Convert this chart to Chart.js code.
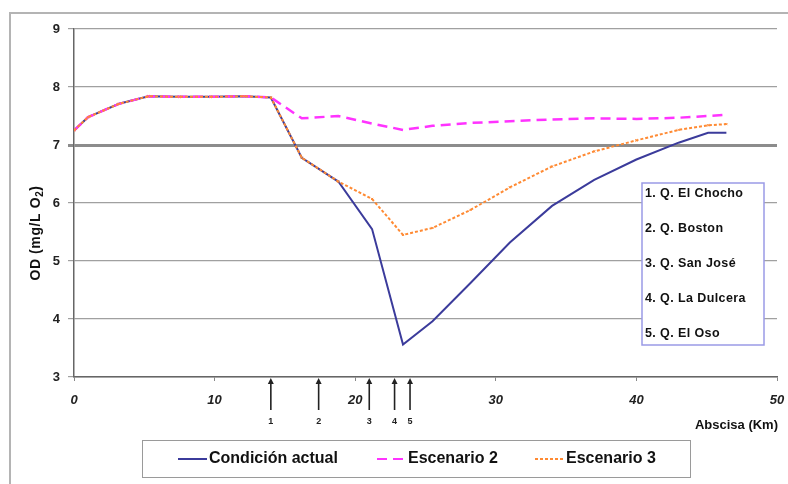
<!DOCTYPE html>
<html>
<head>
<meta charset="utf-8">
<script src="https://cdn.jsdelivr.net/npm/chart.js@4/dist/chart.umd.min.js"></script>
<style>
  html, body { margin: 0; padding: 0; background: #fff; }
  #wrap { position: relative; width: 788px; height: 484px; }
</style>
</head>
<body>
<div id="wrap"><canvas id="od-chart" width="788" height="484"></canvas></div>
<script>
// ── Data ──────────────────────────────────────────────────────────────────────
const km       = [0, 1, 3.2, 5.3, 7.5, 9.7, 12.1, 14, 16.2, 18.8, 21.2, 23.4, 25.5, 28.2, 31, 34, 37, 40, 43, 45.1, 46.4];
const actual   = [7.25, 7.48, 7.71, 7.84, 7.83, 7.83, 7.84, 7.82, 6.78, 6.37, 5.55, 3.56, 3.96, 4.62, 5.32, 5.95, 6.40, 6.75, 7.04, 7.21, 7.21];
const scen2    = [7.25, 7.48, 7.71, 7.84, 7.83, 7.83, 7.84, 7.82, 7.46, 7.50, 7.37, 7.26, 7.33, 7.38, 7.41, 7.44, 7.46, 7.45, 7.47, 7.50, 7.52];
const scen3    = [7.25, 7.48, 7.71, 7.84, 7.83, 7.83, 7.84, 7.82, 6.78, 6.37, 6.07, 5.45, 5.57, 5.88, 6.27, 6.63, 6.89, 7.08, 7.26, 7.34, 7.36];
const seriesLabels = ['Condición actual', 'Escenario 2', 'Escenario 3'];

const tribKm    = [14.0, 17.4, 21.0, 22.8, 23.9];
const tribNames = ['1. Q. El Chocho', '2. Q. Boston', '3. Q. San José', '4. Q. La Dulcera', '5. Q. El Oso'];

const FONT = '"Liberation Sans", Arial, sans-serif';
const COLORS = ['#3b3b9b', '#ff33ff', '#ff8a33'];
const DASHES = [[], [10, 6], [3, 2]];

const toPoints = ys => ys.map((y, i) => ({ x: km[i], y }));

// ── Extra drawing: frame, axis titles, tributary arrows, boxes ───────────────
const extras = {
  id: 'extras',
  beforeDraw(chart) {
    const c = chart.ctx;
    c.save();
    c.fillStyle = '#fff';
    c.fillRect(0, 0, chart.width, chart.height);
    c.restore();
  },
  afterDraw(chart) {
    const c = chart.ctx;
    const xs = chart.scales.x;
    const area = chart.chartArea;
    c.save();

    // outer frame (only top and left are visible in the picture)
    c.strokeStyle = '#b4b4b4';
    c.lineWidth = 2;
    c.beginPath();
    c.moveTo(10, chart.height);
    c.lineTo(10, 13);
    c.lineTo(chart.width, 13);
    c.stroke();

    // y title, with subscript
    c.fillStyle = '#111';
    c.translate(36, 233);
    c.rotate(-Math.PI / 2);
    c.letterSpacing = '0.6px';
    c.font = `bold 14px ${FONT}`;
    const main = 'OD (mg/L O';
    const w1 = c.measureText(main).width;
    c.font = `bold 10px ${FONT}`;
    const w2 = c.measureText('2').width;
    c.font = `bold 14px ${FONT}`;
    const w3 = c.measureText(')').width;
    const start = -(w1 + w2 + w3) / 2;
    c.textBaseline = 'middle';
    c.textAlign = 'left';
    c.fillText(main, start, 0);
    c.font = `bold 10px ${FONT}`;
    c.fillText('2', start + w1, 4);
    c.font = `bold 14px ${FONT}`;
    c.fillText(')', start + w1 + w2, 0);
    c.setTransform(1, 0, 0, 1, 0, 0);
    c.letterSpacing = '0px';

    // x title
    c.font = `bold 13px ${FONT}`;
    c.textAlign = 'right';
    c.textBaseline = 'middle';
    c.fillText('Abscisa (Km)', 778, 425);

    // tributary arrows
    c.strokeStyle = '#222';
    c.fillStyle = '#222';
    tribKm.forEach((k, i) => {
      const px = xs.getPixelForValue(k);
      c.lineWidth = 1.6;
      c.beginPath();
      c.moveTo(px, 410);
      c.lineTo(px, area.bottom + 5);
      c.stroke();
      c.beginPath();
      c.moveTo(px, area.bottom + 1);
      c.lineTo(px - 3, area.bottom + 7);
      c.lineTo(px + 3, area.bottom + 7);
      c.closePath();
      c.fill();
      c.font = `bold 9px ${FONT}`;
      c.textAlign = 'center';
      c.fillText(String(i + 1), px, 422);
    });

    // tributary names box
    c.fillStyle = '#fff';
    c.fillRect(642, 183, 122, 162);
    c.strokeStyle = '#9a9ae6';
    c.lineWidth = 1.5;
    c.strokeRect(642, 183, 122, 162);
    c.fillStyle = '#111';
    c.font = `bold 12.5px ${FONT}`;
    c.letterSpacing = '0.4px';
    c.textAlign = 'left';
    tribNames.forEach((t, i) => c.fillText(t, 645, 194 + i * 35));
    c.letterSpacing = '0px';

    // series legend box
    c.strokeStyle = '#9a9a9a';
    c.lineWidth = 1;
    c.strokeRect(142.5, 440.5, 548, 37);
    const legX = [178, 377, 535];
    c.font = `bold 16px ${FONT}`;
    seriesLabels.forEach((lab, i) => {
      c.strokeStyle = COLORS[i];
      c.lineWidth = 2;
      c.setLineDash(DASHES[i]);
      c.beginPath();
      c.moveTo(legX[i], 459);
      c.lineTo(legX[i] + 29, 459);
      c.stroke();
      c.setLineDash([]);
      c.fillStyle = '#111';
      c.fillText(lab, legX[i] + 31, 459);
    });

    c.restore();
  },
};

// ── Chart ────────────────────────────────────────────────────────────────────
new Chart(document.getElementById('od-chart').getContext('2d'), {
  type: 'scatter',
  data: {
    datasets: [actual, scen2, scen3].map((ys, i) => ({
      label: seriesLabels[i],
      data: toPoints(ys),
      showLine: true,
      borderColor: COLORS[i],
      backgroundColor: COLORS[i],
      borderWidth: i === 1 ? 2.5 : 2,
      borderDash: DASHES[i],
      pointRadius: i === 2 ? 1.5 : 0,
      pointStyle: 'crossRot',
      pointBorderWidth: 1,
      tension: 0,
    })).reverse(),
  },
  options: {
    responsive: false,
    animation: false,
    layout: { padding: { left: 40, right: 11, top: 29, bottom: 71 } },
    plugins: { legend: { display: false }, tooltip: { enabled: false } },
    scales: {
      x: {
        type: 'linear',
        min: 0, max: 50,
        afterFit: s => { s.height = 36; s.paddingLeft = 0; s.paddingRight = 0; },
        ticks: {
          stepSize: 10,
          color: '#222',
          padding: 12,
          maxRotation: 0,
          font: { family: FONT, size: 13, weight: 'bold', style: 'italic' },
        },
        grid: { drawOnChartArea: false, drawTicks: true, tickLength: 4, color: '#888' },
        border: { color: '#666', width: 1.5 },
      },
      y: {
        min: 3, max: 9,
        afterFit: s => { s.width = 34; s.paddingTop = 0; s.paddingBottom = 0; },
        ticks: {
          stepSize: 1,
          color: '#222',
          padding: 8,
          font: { family: FONT, size: 13, weight: 'bold' },
        },
        grid: {
          color: ctx => ctx.tick && ctx.tick.value === 7 ? '#8c8c8c' : '#a0a0a0',
          lineWidth: ctx => ctx.tick && ctx.tick.value === 7 ? 3 : 1.2,
          tickLength: 6,
        },
        border: { color: '#666', width: 1.5 },
      },
    },
  },
  plugins: [extras],
});
</script>
</body>
</html>
